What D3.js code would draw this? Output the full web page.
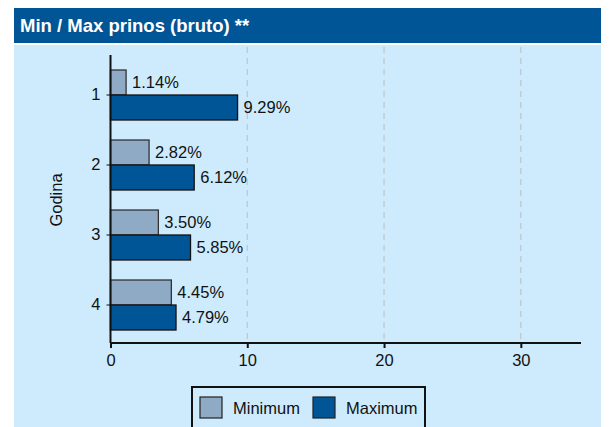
<!DOCTYPE html>
<html lang="en">
<head>
    <meta charset="UTF-8">
    <title>Min / Max prinos</title>
    <script src="https://d3js.org/d3.v7.min.js"></script>
    <style>
        body { margin: 0; background: #ffffff; }
        text { font-family: "Liberation Sans", Arial, sans-serif; }
    </style>
</head>
<body>
<div id="figure" style="width: 611px; height: 427px"></div>
<script>
    let w = 611;
    let h = 427;

    let categories = ["1", "2", "3", "4"];
    let series = ["Minimum", "Maximum"];
    let minValues = [1.14, 2.82, 3.50, 4.45];
    let maxValues = [9.29, 6.12, 5.85, 4.79];
    let xTicks = [0, 10, 20, 30];
    let colors = ["#8faac5", "#005596"];
    let fs = "16.5px";

    let svg = d3.select("#figure").append("svg")
        .attr("width", w)
        .attr("height", h);

    // title bar and panel
    svg.append("rect").attr("x", 14).attr("y", 8).attr("width", 587).attr("height", 35).attr("fill", "#005596");
    svg.append("text").attr("x", 20).attr("y", 32)
        .attr("fill", "white").style("font-size", "18.5px").style("font-weight", "bold")
        .text("Min / Max prinos (bruto) **");
    svg.append("rect").attr("x", 14).attr("y", 45).attr("width", 587).attr("height", h - 45).attr("fill", "#cdebfd");

    let xScale = d3.scaleLinear().domain([0, 34.4]).range([110.5, 581]);
    let yScale = d3.scaleBand().domain(categories).range([60, 340]).paddingInner(20 / 70).paddingOuter(10 / 70);
    let sub = d3.scaleBand().domain(series).range([0, yScale.bandwidth()]);

    let plot = svg.append("g");

    // dashed grid
    plot.selectAll(".grid").data(xTicks.filter(d => d > 0)).enter().append("line")
        .attr("x1", d => xScale(d)).attr("x2", d => xScale(d))
        .attr("y1", 47).attr("y2", 343)
        .attr("stroke", "#c0c4cc").attr("stroke-width", 1.2).attr("stroke-dasharray", "6,5");

    let rows = categories.map((c, i) => ({cat: c, vals: [minValues[i], maxValues[i]]}));
    let groups = plot.selectAll(".grp").data(rows).enter().append("g")
        .attr("transform", d => "translate(0," + yScale(d.cat) + ")");
    groups.selectAll("rect").data(d => d.vals.map((v, k) => ({v: v, s: series[k], k: k}))).enter().append("rect")
        .attr("x", xScale(0))
        .attr("y", d => sub(d.s))
        .attr("width", d => xScale(d.v) - xScale(0))
        .attr("height", sub.bandwidth())
        .attr("fill", d => colors[d.k])
        .attr("stroke", d => d.k === 0 ? "#333" : "#111").attr("stroke-width", 1.3);
    groups.selectAll(".lbl").data(d => d.vals.map((v, k) => ({v: v, s: series[k]}))).enter().append("text")
        .attr("x", d => xScale(d.v) + 6)
        .attr("y", d => sub(d.s) + sub.bandwidth() / 2 + 5.5)
        .style("font-size", fs).attr("fill", "#111")
        .text(d => d.v.toFixed(2) + "%");

    // axes
    let xAxis = d3.axisBottom(xScale).tickValues(xTicks).tickSize(5).tickPadding(6);
    let gx = svg.append("g").attr("transform", "translate(0,343)").call(xAxis);
    gx.select(".domain").attr("stroke", "#111").attr("stroke-width", 2).attr("d", "M110.5,0H581");
    gx.selectAll(".tick line").attr("stroke", "#111").attr("stroke-width", 2);
    gx.selectAll("text").style("font-size", fs).attr("fill", "#111").style("font-family", "Liberation Sans, Arial, sans-serif");

    let yAxis = d3.axisLeft(yScale).tickSize(4).tickPadding(6);
    let gy = svg.append("g").attr("transform", "translate(110.5,0)").call(yAxis);
    gy.select(".domain").attr("stroke", "#111").attr("stroke-width", 2).attr("d", "M0,55V343");
    gy.selectAll(".tick line").attr("stroke", "#111").attr("stroke-width", 1);
    gy.selectAll("text").style("font-size", fs).attr("fill", "#111").style("font-family", "Liberation Sans, Arial, sans-serif");

    svg.append("text").attr("transform", "translate(62,200) rotate(-90)")
        .attr("text-anchor", "middle").style("font-size", fs).attr("fill", "#111")
        .text("Godina");

    // legend
    let legend = svg.append("g");
    legend.append("rect").attr("x", 192).attr("y", 387).attr("width", 233).attr("height", 50)
        .attr("fill", "#cdebfd").attr("stroke", "#111").attr("stroke-width", 2);
    let lx = [200, 313];
    series.forEach((s, k) => {
        legend.append("rect").attr("x", lx[k]).attr("y", 397).attr("width", 22).attr("height", 21)
            .attr("fill", colors[k]).attr("stroke", "#222").attr("stroke-width", 1.2);
        legend.append("text").attr("x", lx[k] + 33).attr("y", 414)
            .style("font-size", fs).attr("fill", "#111").text(s);
    });
</script>
</body>
</html>
